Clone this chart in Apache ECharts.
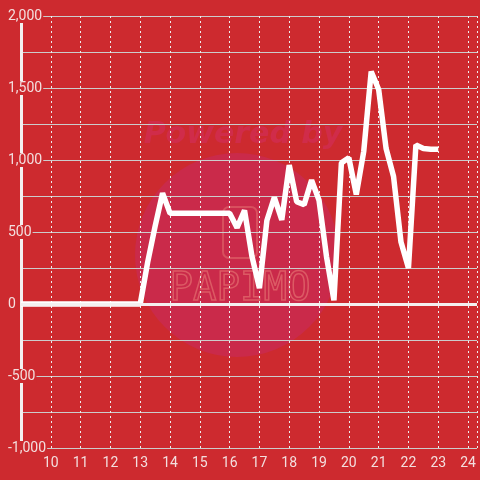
<!DOCTYPE html>
<html>
<head>
<meta charset="utf-8">
<script src="https://cdn.jsdelivr.net/npm/echarts@6/dist/echarts.min.js"></script>
<style>
  html, body { margin: 0; padding: 0; background: #cd2a2f; }
  #main { width: 480px; height: 480px; }
</style>
</head>
<body>
<div id="main"></div>
<script>
// hour of day (quarter hours) and value
var hours = [9, 10, 11, 12, 13, 13.25, 13.5, 13.75, 14, 14.25, 14.5, 14.75, 15, 15.25, 15.5, 15.75, 16,
  16.25, 16.5, 16.75, 17, 17.25, 17.5, 17.75, 18, 18.25, 18.5, 18.75, 19, 19.25, 19.5, 19.75, 20,
  20.25, 20.5, 20.75, 21, 21.25, 21.5, 21.75, 22, 22.25, 22.5, 22.75, 23];
var values = [0, 0, 0, 0, 0, 290, 540, 770, 630, 630, 630, 630, 630, 630, 630, 630, 630,
  530, 650, 330, 110, 580, 740, 585, 965, 710, 690, 860, 720, 330, 25, 980, 1015,
  760, 1060, 1615, 1490, 1080, 885, 430, 250, 1105, 1080, 1075, 1075];
var yTicks = { min: -1000, max: 2000, step: 500 };

var chart = echarts.init(document.getElementById('main'));
var textColor = '#f3dede';
var bg = '#cd2a2f';

var option = {
  backgroundColor: bg,
  animation: false,
  textStyle: { fontFamily: 'Roboto' },
  graphic: [
    { type: 'circle', z: -10, shape: { cx: 237, cy: 255, r: 102 }, style: { fill: '#ca2a4a' } },
    { type: 'text', z: -9, style: { x: 243, y: 135, text: 'Powered by', align: 'center', verticalAlign: 'middle',
      font: 'italic bold 30px "DejaVu Sans"', fill: '#d02c4a' } },
    { type: 'rect', z: -9, shape: { x: 223, y: 207, width: 34, height: 51, r: 6 },
      style: { fill: 'none', stroke: '#d8505e', lineWidth: 2 } },
    { type: 'text', z: -9, style: { x: 240, y: 290, text: 'PAPIMO', align: 'center', verticalAlign: 'middle',
      font: '39px "DejaVu Sans Mono"', fill: 'none', stroke: '#dc5a64', lineWidth: 1.5 } }
  ],
  grid: { left: 21, right: 0, top: 16, bottom: 32 },
  xAxis: {
    type: 'value',
    min: 9,
    max: 24.3,
    interval: 1,
    axisLine: { show: false },
    axisTick: { show: false },
    axisLabel: {
      color: textColor, fontSize: 14, margin: 8,
      formatter: function (v) { return (v === 9 || v % 1 !== 0) ? '' : v; }
    },
    splitLine: { show: true, lineStyle: { color: '#eeeeee', type: [2, 3], width: 1 } }
  },
  yAxis: {
    type: 'value',
    min: yTicks.min,
    max: yTicks.max,
    interval: yTicks.step,
    axisLine: { show: true, lineStyle: { color: '#f4f0f0', width: 3 } },
    axisTick: { show: false },
    axisLabel: {
      color: textColor, fontSize: 14, align: 'left', margin: 14,
      backgroundColor: bg, padding: [0, 1, 0, 1],
      formatter: function (v) { return echarts.format.addCommas(v); }
    },
    splitLine: { show: true, lineStyle: { color: '#cccccc', width: 1 } },
    minorTick: { show: false, splitNumber: 2 },
    minorSplitLine: { show: true, lineStyle: { color: '#cccccc', width: 1 } }
  },
  series: [{
    type: 'line',
    data: hours.map(function (h, i) { return [h, values[i]]; }),
    symbol: 'none',
    lineStyle: { color: '#ffffff', width: 5.5 },
    z: 3,
    markLine: {
      silent: true,
      symbol: 'none',
      label: { show: false },
      lineStyle: { color: '#f4f0f0', width: 3, type: 'solid' },
      data: [{ yAxis: 0 }]
    }
  }]
};
chart.setOption(option);
</script>
</body>
</html>
